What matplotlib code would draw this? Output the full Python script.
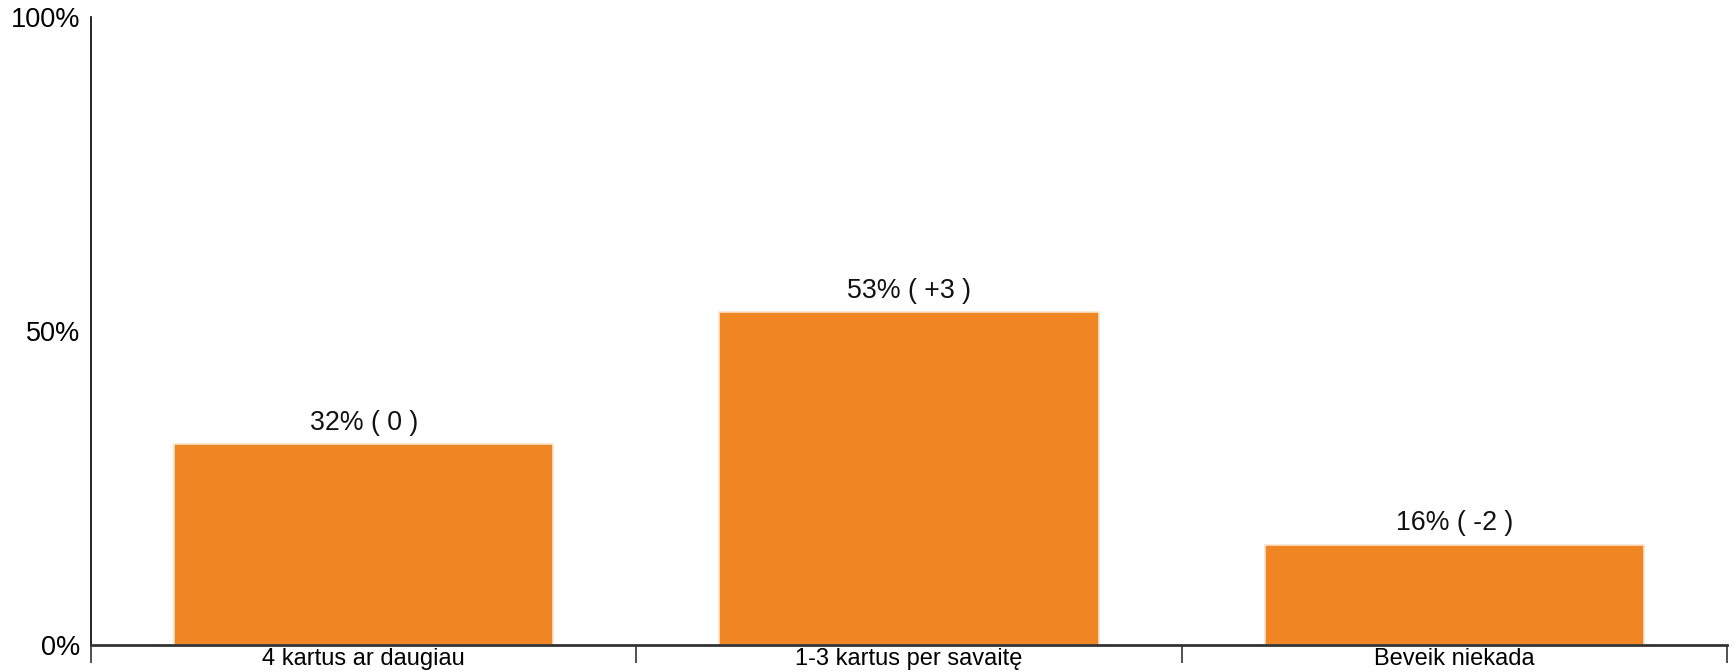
import matplotlib
matplotlib.use("Agg")
import matplotlib.pyplot as plt
import numpy as np

categories = ["4 kartus ar daugiau", "1-3 kartus per savaitę", "Beveik niekada"]
values = [32, 53, 16]
changes = ["0", "+3", "-2"]
ytick_vals = [0, 50, 100]
ytick_labels = ["0%", "50%", "100%"]

plt.rcParams['font.family'] = ['Liberation Sans', 'DejaVu Sans']

fig = plt.figure(figsize=(17.35, 6.72), dpi=100)
W, H = 1735, 672
left, right, top, bottom = 91, 1727, 17, 645
ax = fig.add_axes([left / W, 1 - bottom / H, (right - left) / W, (bottom - top) / H])

x = np.arange(len(categories))
bars = ax.bar(x, values, width=0.695, color="#EF8623", edgecolor="#fbe3cc", linewidth=1.2, zorder=2)
for xi, v, c in zip(x, values, changes):
    ax.annotate(f"{v}% ( {c} )", (xi, v), xytext=(0, 6), textcoords="offset points",
                ha="center", va="bottom", fontsize=19.3, color="#111111")

ax.set_xlim(-0.5, len(categories) - 0.5)
ax.set_ylim(0, 100)
ax.set_yticks(ytick_vals)
ax.set_yticklabels(ytick_labels, fontsize=19.5)
ax.tick_params(axis="y", length=0, pad=8)

ax.set_xticks(x)
ax.set_xticklabels(categories, fontsize=17)
ax.tick_params(axis="x", which="major", length=0, pad=2)
ax.set_xticks(np.arange(len(categories) + 1) - 0.5, minor=True)
ax.tick_params(axis="x", which="minor", length=13, width=1.2, color="#333333", direction="out")

for s in ["top", "right"]:
    ax.spines[s].set_visible(False)
ax.spines["left"].set_color("#000000")
ax.spines["left"].set_linewidth(1.2)
ax.spines["bottom"].set_color("#333333")
ax.spines["bottom"].set_linewidth(2)
ax.spines["bottom"].set_zorder(3)

fig.savefig("out.png", dpi=100)
